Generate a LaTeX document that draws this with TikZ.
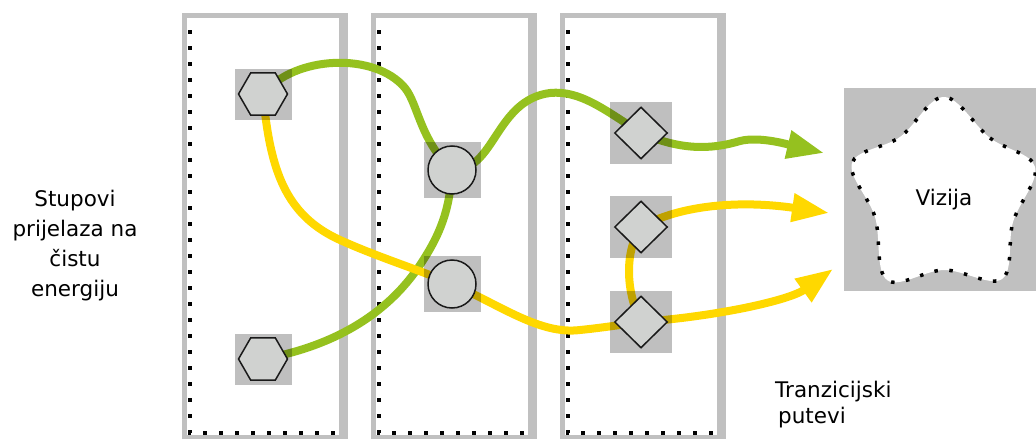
\documentclass[tikz,border=0pt]{standalone}
\usepackage{fontspec}
\setmainfont{DejaVu Sans}
\usetikzlibrary{shapes.geometric,arrows.meta}
\pgfdeclarelayer{cols}\pgfdeclarelayer{lines}\pgfdeclarelayer{squares}
\pgfsetlayers{cols,lines,squares,main}
\definecolor{colgrey}{HTML}{C0C0C0}
\definecolor{lgreen}{HTML}{95C11F}
\definecolor{lyellow}{HTML}{FFD800}
\definecolor{shapefill}{HTML}{D0D2D0}
\begin{document}
\begin{tikzpicture}[x=1pt,y=-1pt,
 colborder/.style={draw=colgrey,line width=5pt},
 dotline/.style={draw=black,line width=4pt,dash pattern=on 4pt off 12pt,dash phase=5pt},
 shp/.style={draw=black!90,line width=1.5pt,fill=shapefill,inner sep=0pt},
 hexa/.style={shp,regular polygon,regular polygon sides=6,minimum size=49pt},
 circ/.style={shp,circle,minimum size=48pt},
 diam/.style={shp,diamond,minimum width=53pt,minimum height=52pt},
 backsq/.style={fill=black,fill opacity=0.25},
 gline/.style={draw=lgreen,line width=8pt},
 yline/.style={draw=lyellow,line width=8pt},
 bigtip/.style={-{Triangle[length=37pt,width=27pt]}},
 lbl/.style={font=\fontsize{21.5}{30}\selectfont,inner sep=0pt},
]
\clip (0,0) rectangle (1036,439);
% columns
\begin{pgfonlayer}{cols}
\foreach \x in {182,371,560} {
  \draw[colborder] (\x+2.5,15.5) rectangle (\x+163.5,437.5);
  \fill[colgrey] (\x+157,13) rectangle (\x+166,442);
  \draw[dotline] (\x+7.5,19) -- (\x+7.5,432.5) -- (\x+155,432.5);
}
\end{pgfonlayer}
% nodes
\node[hexa] (h1) at (263,94) {};
\node[hexa] (h2) at (263,359) {};
\node[circ] (c1) at (452,170) {};
\node[circ] (c2) at (452,284) {};
\node[diam] (d1) at (641,133) {};
\node[diam] (d2) at (641,227) {};
\node[diam] (d3) at (641,322) {};
% grey squares
\begin{pgfonlayer}{squares}
\foreach \n in {h1,h2} \fill[backsq] ([shift={(-28.5,-25.5)}]\n.center) rectangle ([shift={(28.5,25.5)}]\n.center);
\foreach \n in {c1,c2} \fill[backsq] ([shift={(-28.5,-28)}]\n.center) rectangle ([shift={(28.5,28)}]\n.center);
\foreach \n in {d1,d2,d3} \fill[backsq] ([shift={(-31,-31)}]\n.center) rectangle ([shift={(31,30.5)}]\n.center);
\end{pgfonlayer}
% vision
\fill[colgrey] (844,88) rectangle (1040,291);
\draw[fill=white,line width=3.5pt,dash pattern=on 3.5pt off 11.5pt]
  plot[smooth cycle,tension=0.6] coordinates {(944,97) (990,138) (1035,167) (1013,222) (1002,279) (944,270) (887,280) (875,217) (852,163) (900,137)};
\node[lbl,anchor=base] (vis) at (944,205) {Vizija};
% arrow ends
\coordinate (ga) at (824,153);
\coordinate (ya1) at (829,213);
\coordinate (ya2) at (833,269);
% connectors
\begin{pgfonlayer}{lines}
\draw[gline] (h1.center) .. controls (295,55) and (375,52) .. (405,88) .. controls (418,104) and (420,140) .. (c1.center);
\draw[gline] (c1.center) .. controls (495,172) and (495,100) .. (550,93) .. controls (580,90) and (605,110) .. (d1.center);
\draw[gline,bigtip] (d1.center) .. controls (680,150) and (710,150) .. (740,141) .. controls (760,136) and (790,145) .. (ga);
\draw[gline] (h2.center) .. controls (340,345) and (390,310) .. (420,265) .. controls (440,235) and (450,210) .. (c1.center);
\draw[yline] (h1.center) .. controls (270,170) and (285,215) .. (340,240) .. controls (380,258) and (420,270) .. (c2.center);
\draw[yline] (c2.center) .. controls (500,305) and (540,335) .. (580,330) .. controls (600,328) and (620,325) .. (d3.center);
\draw[yline,bigtip] (d3.center) .. controls (720,316) and (790,300) .. (ya2);
\draw[yline,bigtip] (d2.center) .. controls (680,205) and (740,200) .. (ya1);
\draw[yline] (d2.center) .. controls (625,250) and (625,290) .. (d3.center);
\end{pgfonlayer}
% texts
\node[lbl,align=center,anchor=base] (lt) at (75,296) {Stupovi\\prijelaza na\\čistu\\energiju};
\node[lbl,font=\fontsize{21.5}{26}\selectfont,align=left,anchor=base west] (rt) at (775,423) {Tranzicijski\\\hspace{3pt}putevi};
\end{tikzpicture}
\end{document}
